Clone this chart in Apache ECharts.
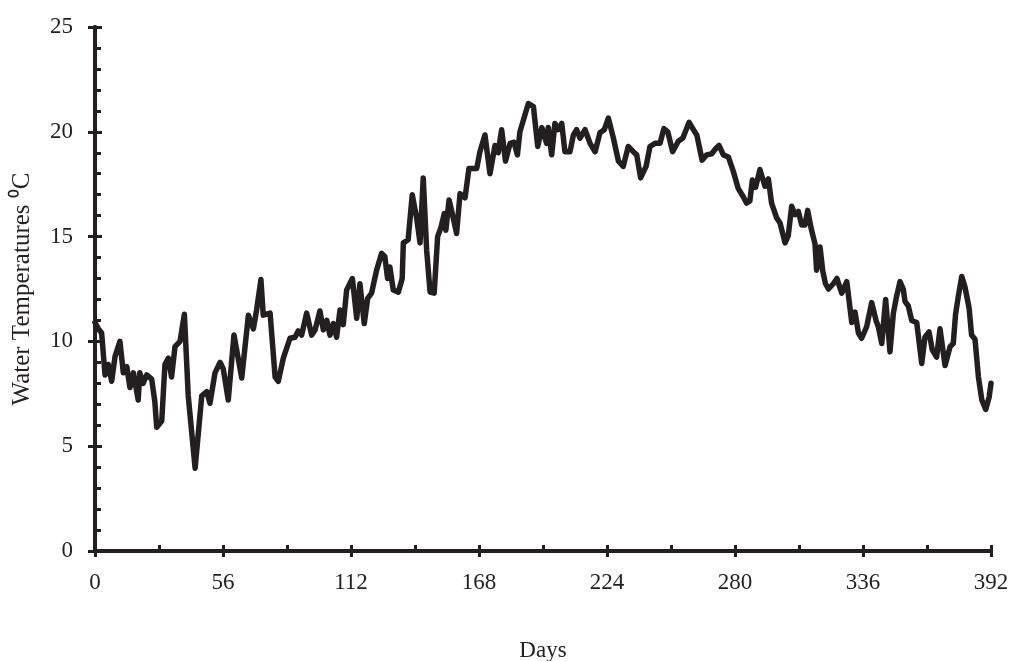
<!DOCTYPE html>
<html>
<head>
<meta charset="utf-8">
<script src="https://cdn.jsdelivr.net/npm/echarts@6/dist/echarts.min.js"></script>
<style>html,body{margin:0;padding:0;background:#fff}#c{width:1012px;height:661px}</style>
</head>
<body>
<div id="c"></div>
<script>
const days = [0,1.5,2.9,4.4,5.8,7.3,8.8,10.9,12.4,13.9,15.3,16.8,18.9,19.6,21.1,22.6,24.8,26.2,27,29.2,30.6,32.1,33.5,35,37.2,39.1,40.8,43.8,46.7,48.9,50.3,52.5,54.7,56.1,58.3,60.8,64.2,67.1,69.3,70.7,72.6,73.6,76.6,78.8,80.2,82.4,85.3,87.5,88.9,90.4,92.6,94.8,96.3,98.4,99.9,101.4,102.8,104.3,105.7,107.2,108.6,110.1,112.6,114.5,115.9,117.8,119.3,121,123.2,125.4,126.8,128,129,130.5,132.7,134.4,134.9,137,138.8,140.7,142.2,143.6,145.1,146.6,148.4,149.9,151.4,152.8,153.5,154.9,156.3,158.2,159.7,161.9,163.6,167,168.4,170.6,172.8,175,176.4,177.9,179.6,181.6,183.3,184.8,185.9,187.4,189.6,191.8,193.7,195.5,197.6,198.3,199.8,201.2,202.7,204.2,205.6,207.8,209.3,210.7,212.2,214.4,216.6,218.8,220.9,222.8,224.6,226.8,229,231.1,233.3,235.5,237,238.7,241.1,242.8,245,247.2,248.9,250.6,252.7,255.2,257.2,259.9,261.8,263.3,265.6,267.6,269.8,271.6,273,274.9,277.1,279.3,281.4,283.6,285.1,286.5,287.6,289,290.9,293.1,294.6,296,298.2,299.7,301.9,303.3,304.8,306.3,307.7,309.2,310.6,311.8,313.3,315,315.7,317.2,318.4,319.6,320.9,323,324.6,326.7,328.9,330.3,331.1,332.5,334,335.4,337.6,339.8,341.7,342.7,344.2,345.9,347.8,349.3,350.7,352.2,353.6,354.4,355.8,357.3,359.5,361.7,363.1,364.9,366.3,368.2,369.7,371.9,374.1,375.5,376.5,377.7,379.2,380.6,382.4,383.5,385,386.5,388,389.7,391.2,392];
const temps = [10.9,10.6,10.4,8.4,8.9,8.1,9.3,10.0,8.5,8.8,7.8,8.5,7.2,8.5,8.0,8.4,8.2,7.1,5.9,6.2,8.9,9.2,8.3,9.75,10.0,11.3,7.4,3.95,7.4,7.6,7.05,8.5,9.0,8.7,7.2,10.3,8.25,11.25,10.6,11.5,12.95,11.25,11.35,8.3,8.1,9.2,10.15,10.2,10.5,10.3,11.35,10.3,10.55,11.45,10.55,11.0,10.3,10.85,10.2,11.5,10.8,12.45,13.0,11.1,12.75,10.85,12.05,12.3,13.4,14.2,14.05,13.0,13.55,12.45,12.35,13.0,14.7,14.85,17.0,15.9,14.7,17.8,14.35,12.35,12.3,15.0,15.45,16.1,15.3,16.75,16.1,15.15,17.05,16.85,18.25,18.25,19.05,19.85,18.0,19.35,19.0,20.1,18.6,19.45,19.5,18.9,20.0,20.55,21.35,21.2,19.3,20.2,19.45,20.2,18.9,20.4,20.1,20.4,19.05,19.05,19.85,20.1,19.7,20.1,19.45,19.05,19.95,20.1,20.65,19.7,18.6,18.35,19.3,19.05,18.9,17.8,18.35,19.3,19.45,19.45,20.15,20.0,19.05,19.55,19.7,20.45,20.1,19.85,18.65,18.9,18.95,19.2,19.35,18.9,18.8,18.1,17.3,16.9,16.6,16.7,17.7,17.35,18.2,17.4,17.75,16.6,15.9,15.65,14.7,15.05,16.45,16.05,16.2,15.55,15.55,16.25,15.4,14.65,13.4,14.5,13.35,12.75,12.5,12.75,13.0,12.3,12.85,11.6,10.9,11.4,10.4,10.15,10.7,11.85,11.0,10.7,9.9,12.0,9.5,11.35,12.15,12.85,12.5,11.9,11.7,11.0,10.9,8.95,10.2,10.45,9.6,9.25,10.6,8.85,9.75,9.9,11.3,12.15,13.1,12.6,11.6,10.3,10.1,8.3,7.2,6.75,7.35,8.0];
const xTicks = [0,56,112,168,224,280,336,392];
const yTicks = [0,5,10,15,20,25];

const ink = '#231f20';
const font = 'Liberation Serif';
const chart = echarts.init(document.getElementById('c'), null, {renderer:'canvas'});
const baseX = {type:'value', min:0, max:392, interval:56, position:'bottom', splitLine:{show:false},
  axisLine:{show:true, onZero:false, lineStyle:{color:ink, width:4}}};
const baseY = {type:'value', min:0, max:25, interval:5, position:'left', splitLine:{show:false},
  axisLine:{show:true, onZero:false, lineStyle:{color:ink, width:4}}};
chart.setOption({
  animation:false,
  backgroundColor:'#fff',
  grid:{left:95, right:21, top:27, bottom:110, containLabel:false, outerBoundsMode:'none'},
  xAxis:[
    Object.assign({}, baseX, {
      name:'Days', nameLocation:'middle', nameGap:88,
      nameTextStyle:{fontFamily:font, fontSize:23, color:ink},
      axisTick:{show:true, inside:false, length:6, lineStyle:{color:ink, width:3}},
      axisLabel:{show:true, margin:20, fontFamily:font, fontSize:23, color:ink,
        formatter:v => xTicks.includes(v) ? String(v) : ''}
    }),
    Object.assign({}, baseX, {
      axisTick:{show:true, inside:true, length:6, lineStyle:{color:ink, width:3}},
      minorTick:{show:true, splitNumber:2, length:6, lineStyle:{color:ink, width:3}},
      axisLabel:{show:false}
    })
  ],
  yAxis:[
    Object.assign({}, baseY, {
      name:'Water Temperatures \u2070C', nameLocation:'middle', nameGap:60, nameRotate:90,
      nameTextStyle:{fontFamily:font, fontSize:25, color:ink},
      axisTick:{show:true, inside:false, length:7, lineStyle:{color:ink, width:3}},
      axisLabel:{show:true, margin:22, fontFamily:font, fontSize:23, color:ink,
        formatter:v => yTicks.includes(v) ? String(v) : ''}
    }),
    Object.assign({}, baseY, {
      axisTick:{show:true, inside:true, length:7, lineStyle:{color:ink, width:3}},
      minorTick:{show:true, splitNumber:5, length:6, lineStyle:{color:ink, width:3}},
      axisLabel:{show:false}
    })
  ],
  series:[{
    type:'line', xAxisIndex:0, yAxisIndex:0,
    data: days.map((d,i)=>[d, temps[i]]),
    showSymbol:false, symbol:'none', smooth:false,
    lineStyle:{color:ink, width:5.5, join:'round', cap:'round'}
  }]
});
</script>
</body>
</html>
